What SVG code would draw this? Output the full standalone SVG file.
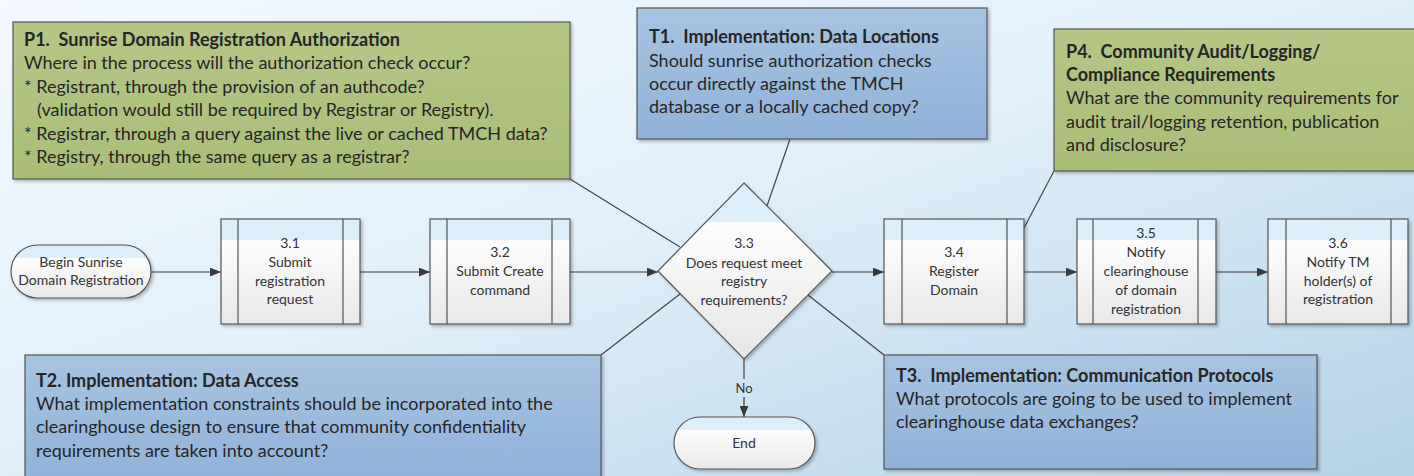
<svg xmlns="http://www.w3.org/2000/svg" width="1414" height="476" viewBox="0 0 1414 476">
<defs>
  <linearGradient id="bg" x1="0" y1="0" x2="1" y2="1">
    <stop offset="0" stop-color="#f3f9fe"/>
    <stop offset="0.45" stop-color="#e2f0fa"/>
    <stop offset="1" stop-color="#b3d2e8"/>
  </linearGradient>
  <linearGradient id="green" x1="0" y1="0" x2="0" y2="1">
    <stop offset="0" stop-color="#b6c686"/>
    <stop offset="1" stop-color="#aabd77"/>
  </linearGradient>
  <linearGradient id="blue" x1="0" y1="0" x2="0" y2="1">
    <stop offset="0" stop-color="#a7c4e1"/>
    <stop offset="1" stop-color="#8fb2d8"/>
  </linearGradient>
  <linearGradient id="proc" x1="0" y1="0" x2="0" y2="1">
    <stop offset="0" stop-color="#dbeef9"/>
    <stop offset="0.2" stop-color="#dbeef9"/>
    <stop offset="0.2" stop-color="#fdfdfd"/>
    <stop offset="1" stop-color="#e8e8e8"/>
  </linearGradient>
  <linearGradient id="term" x1="0" y1="0" x2="0" y2="1">
    <stop offset="0" stop-color="#dbeef9"/>
    <stop offset="0.25" stop-color="#dbeef9"/>
    <stop offset="0.25" stop-color="#fdfdfd"/>
    <stop offset="1" stop-color="#e8e8e8"/>
  </linearGradient>
  <linearGradient id="dia" x1="0" y1="0" x2="0" y2="1">
    <stop offset="0" stop-color="#dbeef9"/>
    <stop offset="0.22" stop-color="#dbeef9"/>
    <stop offset="0.22" stop-color="#fdfdfd"/>
    <stop offset="1" stop-color="#e6e6e6"/>
  </linearGradient>
  <filter id="sh" x="-5%" y="-5%" width="115%" height="120%">
    <feDropShadow dx="2" dy="2" stdDeviation="1.5" flood-color="#000" flood-opacity="0.25"/>
  </filter>
  <marker id="arr" viewBox="0 0 10 8" refX="10" refY="4" markerWidth="11" markerHeight="9" markerUnits="userSpaceOnUse" orient="auto">
    <path d="M0,0 L10,4 L0,8 Z" fill="#3a3a3a"/>
  </marker>
</defs>
<style>
  text { font-family: Lato, "Open Sans", "Liberation Sans", sans-serif; fill: #262626; }
  .body { font-size: 18px; white-space: pre; }
  .bold { font-weight: bold; }
  .lbl { font-size: 14px; text-anchor: middle; fill: #333; }
  .callG { fill: url(#green); stroke: #555; stroke-width: 1.2; filter: url(#sh); }
  .callB { fill: url(#blue); stroke: #555; stroke-width: 1.2; filter: url(#sh); }
  .proc { fill: url(#proc); stroke: #555; stroke-width: 1.2; filter: url(#sh); }
  .inner { stroke: #555; stroke-width: 1.2; }
  .conn { stroke: #444; stroke-width: 1.2; fill: none; }
  .flow { stroke: #3a3a3a; stroke-width: 1.2; fill: none; marker-end: url(#arr); }
</style>
<rect x="0" y="0" width="1414" height="476" fill="url(#bg)"/>

<g id="connectors">
  <line class="conn" x1="570" y1="179" x2="680" y2="247"/>
  <line class="conn" x1="790" y1="139" x2="767" y2="206"/>
  <line class="conn" x1="1054" y1="171" x2="1024" y2="228"/>
  <line class="conn" x1="601" y1="355" x2="680" y2="294"/>
  <line class="conn" x1="884" y1="355" x2="808" y2="295"/>
  <line class="flow" x1="151" y1="272" x2="221" y2="272"/>
  <line class="flow" x1="360" y1="272" x2="430" y2="272"/>
  <line class="flow" x1="570" y1="272" x2="658" y2="272"/>
  <line class="flow" x1="832" y1="272" x2="884" y2="272"/>
  <line class="flow" x1="1024" y1="272" x2="1077" y2="272"/>
  <line class="flow" x1="1216" y1="272" x2="1268" y2="272"/>
  <line class="conn" x1="744" y1="359" x2="744" y2="379"/>
  <line class="flow" x1="744" y1="397" x2="744" y2="417"/>
  <text x="744" y="393" class="lbl" style="font-size:13px">No</text>
</g>

<g id="P1">
  <rect class="callG" x="13" y="22" width="557" height="157"/>
  <text class="body bold" x="24" y="46">P1.  Sunrise Domain Registration Authorization</text>
  <text class="body" x="24" y="69">Where in the process will the authorization check occur?</text>
  <text class="body" x="24" y="93">* Registrant, through the provision of an authcode?</text>
  <text class="body" x="37" y="116">(validation would still be required by Registrar or Registry).</text>
  <text class="body" x="24" y="140">* Registrar, through a query against the live or cached TMCH data?</text>
  <text class="body" x="24" y="163">* Registry, through the same query as a registrar?</text>
</g>

<g id="T1">
  <rect class="callB" x="637" y="8" width="350" height="131"/>
  <text class="body bold" x="649" y="43">T1.  Implementation: Data Locations</text>
  <text class="body" x="649" y="67">Should sunrise authorization checks</text>
  <text class="body" x="649" y="90">occur directly against the TMCH</text>
  <text class="body" x="649" y="113">database or a locally cached copy?</text>
</g>

<g id="P4">
  <rect class="callG" x="1054" y="29" width="370" height="142"/>
  <text class="body bold" x="1066" y="58">P4.  Community Audit/Logging/</text>
  <text class="body bold" x="1066" y="81">Compliance Requirements</text>
  <text class="body" x="1066" y="104">What are the community requirements for</text>
  <text class="body" x="1066" y="128">audit trail/logging retention, publication</text>
  <text class="body" x="1066" y="151">and disclosure?</text>
</g>

<g id="T2">
  <rect class="callB" x="25" y="355" width="576" height="130"/>
  <text class="body bold" x="36" y="387">T2. Implementation: Data Access</text>
  <text class="body" x="36" y="410">What implementation constraints should be incorporated into the</text>
  <text class="body" x="36" y="433">clearinghouse design to ensure that community confidentiality</text>
  <text class="body" x="36" y="457">requirements are taken into account?</text>
</g>

<g id="T3">
  <rect class="callB" x="884" y="355" width="433" height="114"/>
  <text class="body bold" x="896" y="382">T3.  Implementation: Communication Protocols</text>
  <text class="body" x="896" y="405">What protocols are going to be used to implement</text>
  <text class="body" x="896" y="428">clearinghouse data exchanges?</text>
</g>

<g id="begin">
  <rect x="11" y="245" width="140" height="53" rx="26.5" fill="url(#term)" stroke="#555" stroke-width="1.2" filter="url(#sh)"/>
  <text class="lbl" x="81" y="267">Begin Sunrise</text>
  <text class="lbl" x="81" y="285">Domain Registration</text>
</g>

<g id="n3_1">
  <rect class="proc" x="221" y="219" width="139" height="105"/>
  <line class="inner" x1="238" y1="219" x2="238" y2="324"/>
  <line class="inner" x1="343" y1="219" x2="343" y2="324"/>
  <text class="lbl" x="290" y="248">3.1</text>
  <text class="lbl" x="290" y="267">Submit</text>
  <text class="lbl" x="290" y="286">registration</text>
  <text class="lbl" x="290" y="304">request</text>
</g>

<g id="n3_2">
  <rect class="proc" x="430" y="219" width="140" height="105"/>
  <line class="inner" x1="447" y1="219" x2="447" y2="324"/>
  <line class="inner" x1="552" y1="219" x2="552" y2="324"/>
  <text class="lbl" x="500" y="257">3.2</text>
  <text class="lbl" x="500" y="276">Submit Create</text>
  <text class="lbl" x="500" y="295">command</text>
</g>

<g id="n3_3">
  <polygon points="744,183 832,271 744,359 658,271" fill="url(#dia)" stroke="#555" stroke-width="1.2" filter="url(#sh)"/>
  <text class="lbl" x="744" y="248">3.3</text>
  <text class="lbl" x="744" y="268">Does request meet</text>
  <text class="lbl" x="744" y="286">registry</text>
  <text class="lbl" x="744" y="305">requirements?</text>
</g>

<g id="n3_4">
  <rect class="proc" x="884" y="219" width="140" height="105"/>
  <line class="inner" x1="902" y1="219" x2="902" y2="324"/>
  <line class="inner" x1="1007" y1="219" x2="1007" y2="324"/>
  <text class="lbl" x="954" y="257">3.4</text>
  <text class="lbl" x="954" y="276">Register</text>
  <text class="lbl" x="954" y="295">Domain</text>
</g>

<g id="n3_5">
  <rect class="proc" x="1077" y="219" width="139" height="105"/>
  <line class="inner" x1="1093" y1="219" x2="1093" y2="324"/>
  <line class="inner" x1="1198" y1="219" x2="1198" y2="324"/>
  <text class="lbl" x="1146" y="238">3.5</text>
  <text class="lbl" x="1146" y="257">Notify</text>
  <text class="lbl" x="1146" y="276">clearinghouse</text>
  <text class="lbl" x="1146" y="295">of domain</text>
  <text class="lbl" x="1146" y="314">registration</text>
</g>

<g id="n3_6">
  <rect class="proc" x="1268" y="219" width="140" height="105"/>
  <line class="inner" x1="1286" y1="219" x2="1286" y2="324"/>
  <line class="inner" x1="1391" y1="219" x2="1391" y2="324"/>
  <text class="lbl" x="1338" y="248">3.6</text>
  <text class="lbl" x="1338" y="267">Notify TM</text>
  <text class="lbl" x="1338" y="286">holder(s) of</text>
  <text class="lbl" x="1338" y="304">registration</text>
</g>

<g id="end">
  <rect x="674" y="417" width="141" height="52" rx="26" fill="url(#term)" stroke="#555" stroke-width="1.2" filter="url(#sh)"/>
  <text class="lbl" x="744" y="448">End</text>
</g>
</svg>
